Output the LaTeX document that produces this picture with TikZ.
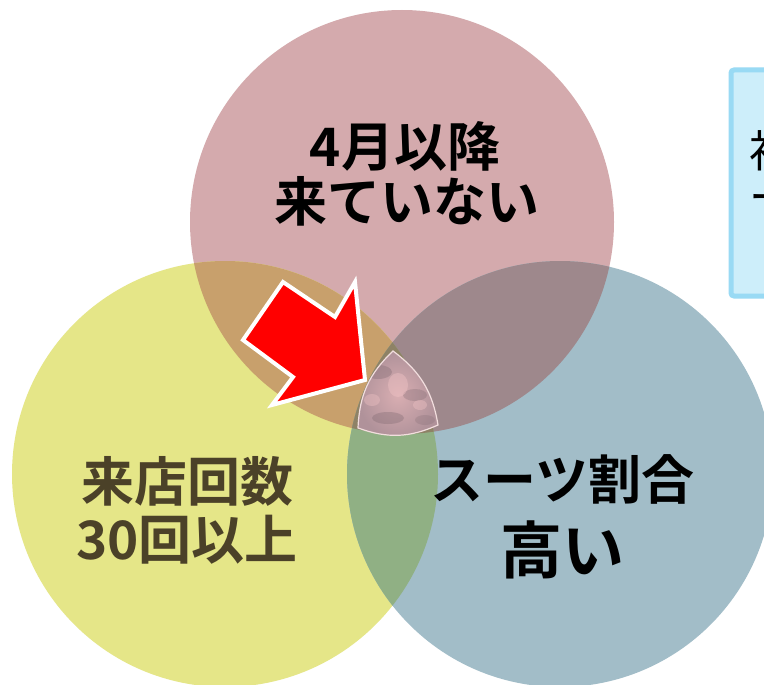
\documentclass[tikz,border=0pt]{standalone}
\usepackage{fontspec}
\newfontfamily\jp{Noto Sans CJK JP}[BoldFont={* Bold}]
\definecolor{cpink}{HTML}{D4AAAD}
\definecolor{cyel}{HTML}{E5E688}
\definecolor{cblue}{HTML}{A2BDC8}
\definecolor{cTL}{HTML}{C8A06C}
\definecolor{cTR}{HTML}{9E888C}
\definecolor{cLR}{HTML}{90B084}
\definecolor{cTLR}{HTML}{8E8266}
\definecolor{ctxtL}{HTML}{4B4128}
\definecolor{boxfill}{HTML}{CDEEFA}
\definecolor{boxline}{HTML}{99DAF4}
\definecolor{cTRIin}{HTML}{D9AEB2}
\definecolor{cTRIout}{HTML}{B0929A}
\definecolor{cTRIline}{HTML}{F2DEDE}
\definecolor{cTRIdark}{HTML}{7E6870}
\definecolor{cTRIlight}{HTML}{EFC2C4}
\begin{document}
\begin{tikzpicture}[x=1bp,y=-1bp,
  lbl/.style={font=\jp\bfseries\fontsize{53bp}{58bp}\selectfont, align=center, inner sep=0pt},
  redarrow/.style={fill=red, draw=white, line width=4bp, line join=miter},
  tri/.style={inner color=cTRIin, outer color=cTRIout},
  triline/.style={draw=cTRIline, line width=1.2bp}]
\useasboundingbox (0,0) rectangle (764,685);
\fill[white] (0,0) rectangle (764,685);
% circles
\def\TC{(402,222) circle[radius=212]}
\def\LC{(225,474) circle[radius=213]}
\def\RC{(560,474) circle[radius=213]}
\fill[cpink] \TC;
\fill[cyel] \LC;
\fill[cblue] \RC;
\begin{scope}\clip \TC; \fill[cTL] \LC; \end{scope}
\begin{scope}\clip \TC; \fill[cTR] \RC; \end{scope}
\begin{scope}\clip \LC; \fill[cLR] \RC; \end{scope}
\begin{scope}\clip \TC; \clip \LC; \fill[cTLR] \RC; \end{scope}
% box on right
\draw[fill=boxfill, draw=boxline, line width=5bp, rounded corners=3bp] (731,70) rectangle (790,296);
\node[anchor=north west, align=left, font=\jp\fontsize{44bp}{46bp}\selectfont, inner sep=0pt] (boxtext) at (749,130) {初\\ー};
% labels
\node[lbl] (t1) at (405,146) {4月以降};
\node[lbl] (t2) at (407,201) {来ていない};
\node[lbl, text=ctxtL] (l1) at (187,481) {来店回数};
\node[lbl, text=ctxtL] (l2) at (187,540) {30回以上};
\node[lbl] (r1) at (562,479) {スーツ割合};
\node[lbl, font=\jp\bfseries\fontsize{62bp}{66bp}\selectfont] (r2) at (562,550) {高い};
% red arrow
\coordinate (A) at (283,282);
\coordinate (B) at (335,317);
\coordinate (C) at (355,282);
\coordinate (D) at (365,380);
\coordinate (E) at (272,405);
\coordinate (F) at (293,377);
\coordinate (G) at (243,340);
\draw[redarrow] (A) -- (B) -- (C) -- (D) -- (E) -- (F) -- (G) -- cycle;
% center triangle (marble)
\coordinate (T) at (393,351);
\coordinate (R) at (438,425);
\coordinate (L) at (358,428);
\def\TRI{(T) to[bend left=22] (R) to[bend left=22] (L) to[bend left=22] (T) -- cycle}
\path[tri] \TRI;
\begin{scope}
  \clip \TRI;
  \fill[cTRIdark, opacity=0.35] (378,372) ellipse[x radius=14, y radius=7];
  \fill[cTRIdark, opacity=0.30] (415,395) ellipse[x radius=12, y radius=6];
  \fill[cTRIdark, opacity=0.35] (388,418) ellipse[x radius=16, y radius=6];
  \fill[cTRIdark, opacity=0.25] (425,420) ellipse[x radius=10, y radius=5];
  \fill[cTRIlight, opacity=0.45] (398,385) ellipse[x radius=10, y radius=12];
  \fill[cTRIlight, opacity=0.40] (372,400) ellipse[x radius=8, y radius=6];
  \fill[cTRIlight, opacity=0.40] (420,405) ellipse[x radius=7, y radius=5];
\end{scope}
\path[triline] \TRI;
\end{tikzpicture}
\end{document}
